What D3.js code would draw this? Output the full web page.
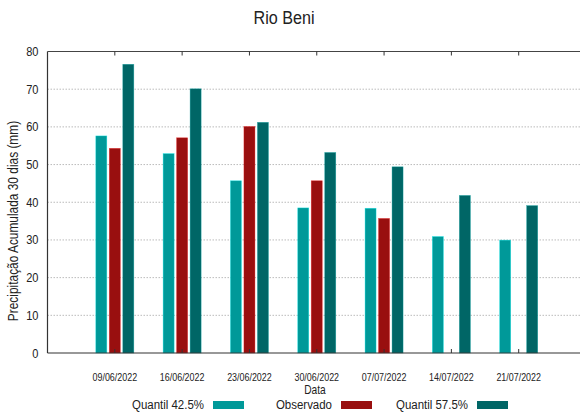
<!DOCTYPE html>
<html><head><meta charset="utf-8">
<script src="https://cdn.jsdelivr.net/npm/d3@7"></script>
<style>
body{margin:0;background:#fff;}
text{font-family:"Liberation Sans",Arial,sans-serif;fill:#222;}
</style></head>
<body><svg id="c" width="580" height="413"></svg>
<script>
const categories=["09/06/2022","16/06/2022","23/06/2022","30/06/2022","07/07/2022","14/07/2022","21/07/2022"];
const q425=[57.6,52.9,45.7,38.5,38.4,30.9,29.95];
const observado=[54.3,57.1,60.1,45.7,35.7,null,null];
const q575=[76.6,70.1,61.2,53.2,49.4,41.8,39.1];
const yTicks=[0,10,20,30,40,50,60,70,80];
const seriesNames=["Quantil 42.5%","Observado","Quantil 57.5%"];
const colors=["#009999","#990f0f","#006666"];

const svg=d3.select("#c");
const L=47.5,R=586,T=51.5,B=353;
const x=d3.scaleLinear().domain([-1,categories.length]).range([L,R]);
const y=d3.scaleLinear().domain([0,80]).range([B,T]);
const SX=0.85;
function txt(px,py,str,size,anchor,rot){
 const g=svg.append("g").attr("transform",`translate(${px},${py})`+(rot?` rotate(${rot})`:"")+` scale(${SX},1)`);
 g.append("text").attr("text-anchor",anchor).attr("font-size",size).text(str);
}

// grid
svg.append("g").selectAll("line").data(yTicks.filter(d=>d>0&&d<80)).join("line")
 .attr("x1",L).attr("x2",R).attr("y1",d=>y(d)).attr("y2",d=>y(d))
 .attr("stroke","#bbb").attr("stroke-width",1).attr("stroke-dasharray","1.5,1.5");

// bars
const data=[q425,observado,q575];
const offs=[-13.5,0,13.5], bw=11;
data.forEach((s,si)=>{
 svg.append("g").selectAll("rect").data(s.map((v,i)=>({v,i})).filter(d=>d.v!=null)).join("rect")
  .attr("x",d=>x(d.i)+offs[si]-bw/2).attr("width",bw)
  .attr("y",d=>y(d.v)).attr("height",d=>y(0)-y(d.v))
  .attr("fill",colors[si]).attr("stroke",d3.color(colors[si]).brighter(1.2)).attr("stroke-width",0.6).attr("stroke-opacity",0.6);
});

// axes
svg.append("line").attr("x1",L).attr("x2",L).attr("y1",T).attr("y2",B).attr("stroke","#333").attr("stroke-width",1.2);
svg.append("line").attr("x1",L).attr("x2",R).attr("y1",B).attr("y2",B).attr("stroke","#333").attr("stroke-width",1.2);
svg.append("line").attr("x1",L).attr("x2",R).attr("y1",T).attr("y2",T).attr("stroke","#444").attr("stroke-width",1);
categories.forEach((c,i)=>{
 svg.append("line").attr("x1",x(i)).attr("x2",x(i)).attr("y1",T).attr("y2",T+4).attr("stroke","#333");
 svg.append("line").attr("x1",x(i)).attr("x2",x(i)).attr("y1",B).attr("y2",B-4).attr("stroke","#333");
});

yTicks.forEach(d=>txt(38.5,y(d)+4.5,d,13,"end"));
categories.forEach((d,i)=>txt(x(i),380.5,d,10.5,"middle"));
txt(315,394,"Data",12,"middle");
txt(284,24,"Rio Beni",19,"middle");
txt(18,221,"Precipitação Acumulada 30 dias (mm)",14,"middle",-90);

const legX=[204,332,468];
seriesNames.forEach((n,i)=>{
 txt(legX[i],409,n,13.5,"end");
 svg.append("rect").attr("x",legX[i]+9).attr("y",401).attr("width",31).attr("height",8).attr("fill",colors[i]);
});
</script></body></html>
